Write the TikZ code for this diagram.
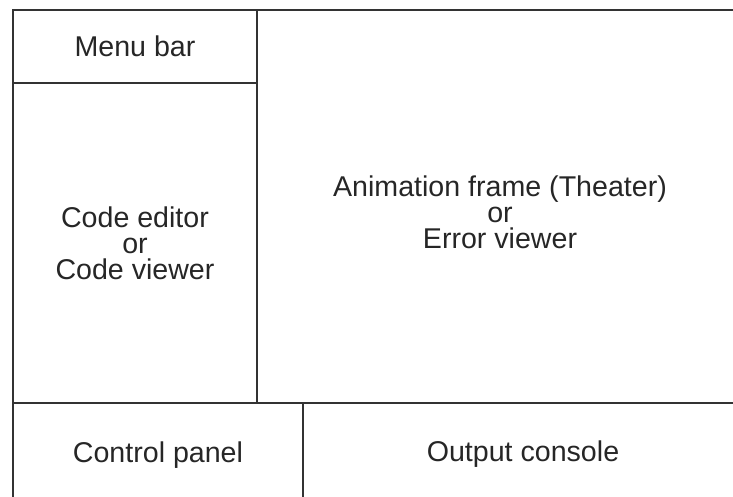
\documentclass[tikz,border=0pt]{standalone}
\usepackage{fontspec}
\setmainfont{Liberation Sans}
\usetikzlibrary{positioning,
	calc}
\tikzset{divider/.style={draw=black!80, line width=1.6pt},
	paneltext/.style={anchor=base, align=center, text=black!85, inner sep=0pt,
		font=\fontsize{28.6}{26}\selectfont}}

\begin{document}
\begin{tikzpicture}[x=1pt, y=-1pt]
		\useasboundingbox (0,0) rectangle (733,497);
		% panel corners
		\coordinate (tl) at (13,10);
		\coordinate (tr) at (733,10);
		\coordinate (bl) at (13,497);
		\coordinate (split) at (257,10);
		\coordinate (menubot) at (13,83);
		\coordinate (midl) at (13,403);
		\coordinate (midr) at (733,403);
		\coordinate (lowsplit) at (303,403);
		% labels (base = last line)
		\node [paneltext] (menu) at (135,57) {Menu bar};
		\node [paneltext] (code) at (135,279) {Code editor\\or\\Code viewer};
		\node [paneltext] (theater) at (500,248) {Animation frame (Theater)\\or\\Error viewer};
		\node [paneltext] (control) at (158,462) {Control panel};
		\node [paneltext] (output) at (523,461) {Output console};
		% frame lines
		\draw [divider] (tr) -- (tl) -- (bl);
		\draw [divider] (split) -- (split |- midl);
		\draw [divider] (menubot) -- (menubot -| split);
		\draw [divider] (midl) -- (midr);
		\draw [divider] (lowsplit) -- (lowsplit |- bl);
	\end{tikzpicture}
\end{document}
